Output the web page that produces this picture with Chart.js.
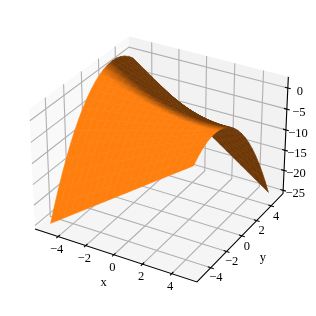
<!DOCTYPE html>
<html>
<head>
<meta charset="utf-8">
<script src="https://cdn.jsdelivr.net/npm/chart.js@4"></script>
<style>
  html, body { margin: 0; padding: 0; background: #fff; }
  canvas { display: block; }
</style>
</head>
<body>
<canvas id="surface-chart" width="316" height="316"></canvas>
<script>
const gridX = [-5,-4.5,-4,-3.5,-3,-2.5,-2,-1.5,-1,-0.5,0,0.5,1,1.5,2,2.5,3,3.5,4,4.5,5];
const gridY = [-5,-4.5,-4,-3.5,-3,-2.5,-2,-1.5,-1,-0.5,0,0.5,1,1.5,2,2.5,3,3.5,4,4.5,5];
// one row per gridY value
const surfaceZ = [
  [-25,-23.8,-22.6,-21.4,-20.2,-19,-17.8,-16.6,-15.4,-14.2,-13,-11.8,-10.6,-9.4,-8.2,-7,-5.8,-4.6,-3.4,-2.2,-1],
  [-21.52,-20.44,-19.36,-18.28,-17.2,-16.12,-15.04,-13.96,-12.88,-11.8,-10.72,-9.64,-8.56,-7.48,-6.4,-5.32,-4.24,-3.16,-2.08,-1,0.08],
  [-18.28,-17.32,-16.36,-15.4,-14.44,-13.48,-12.52,-11.56,-10.6,-9.64,-8.68,-7.72,-6.76,-5.8,-4.84,-3.88,-2.92,-1.96,-1,-0.04,0.92],
  [-15.28,-14.44,-13.6,-12.76,-11.92,-11.08,-10.24,-9.4,-8.56,-7.72,-6.88,-6.04,-5.2,-4.36,-3.52,-2.68,-1.84,-1,-0.16,0.68,1.52],
  [-12.52,-11.8,-11.08,-10.36,-9.64,-8.92,-8.2,-7.48,-6.76,-6.04,-5.32,-4.6,-3.88,-3.16,-2.44,-1.72,-1,-0.28,0.44,1.16,1.88],
  [-10,-9.4,-8.8,-8.2,-7.6,-7,-6.4,-5.8,-5.2,-4.6,-4,-3.4,-2.8,-2.2,-1.6,-1,-0.4,0.2,0.8,1.4,2],
  [-7.72,-7.24,-6.76,-6.28,-5.8,-5.32,-4.84,-4.36,-3.88,-3.4,-2.92,-2.44,-1.96,-1.48,-1,-0.52,-0.04,0.44,0.92,1.4,1.88],
  [-5.68,-5.32,-4.96,-4.6,-4.24,-3.88,-3.52,-3.16,-2.8,-2.44,-2.08,-1.72,-1.36,-1,-0.64,-0.28,0.08,0.44,0.8,1.16,1.52],
  [-3.88,-3.64,-3.4,-3.16,-2.92,-2.68,-2.44,-2.2,-1.96,-1.72,-1.48,-1.24,-1,-0.76,-0.52,-0.28,-0.04,0.2,0.44,0.68,0.92],
  [-2.32,-2.2,-2.08,-1.96,-1.84,-1.72,-1.6,-1.48,-1.36,-1.24,-1.12,-1,-0.88,-0.76,-0.64,-0.52,-0.4,-0.28,-0.16,-0.04,0.08],
  [-1,-1,-1,-1,-1,-1,-1,-1,-1,-1,-1,-1,-1,-1,-1,-1,-1,-1,-1,-1,-1],
  [0.08,-0.04,-0.16,-0.28,-0.4,-0.52,-0.64,-0.76,-0.88,-1,-1.12,-1.24,-1.36,-1.48,-1.6,-1.72,-1.84,-1.96,-2.08,-2.2,-2.32],
  [0.92,0.68,0.44,0.2,-0.04,-0.28,-0.52,-0.76,-1,-1.24,-1.48,-1.72,-1.96,-2.2,-2.44,-2.68,-2.92,-3.16,-3.4,-3.64,-3.88],
  [1.52,1.16,0.8,0.44,0.08,-0.28,-0.64,-1,-1.36,-1.72,-2.08,-2.44,-2.8,-3.16,-3.52,-3.88,-4.24,-4.6,-4.96,-5.32,-5.68],
  [1.88,1.4,0.92,0.44,-0.04,-0.52,-1,-1.48,-1.96,-2.44,-2.92,-3.4,-3.88,-4.36,-4.84,-5.32,-5.8,-6.28,-6.76,-7.24,-7.72],
  [2,1.4,0.8,0.2,-0.4,-1,-1.6,-2.2,-2.8,-3.4,-4,-4.6,-5.2,-5.8,-6.4,-7,-7.6,-8.2,-8.8,-9.4,-10],
  [1.88,1.16,0.44,-0.28,-1,-1.72,-2.44,-3.16,-3.88,-4.6,-5.32,-6.04,-6.76,-7.48,-8.2,-8.92,-9.64,-10.36,-11.08,-11.8,-12.52],
  [1.52,0.68,-0.16,-1,-1.84,-2.68,-3.52,-4.36,-5.2,-6.04,-6.88,-7.72,-8.56,-9.4,-10.24,-11.08,-11.92,-12.76,-13.6,-14.44,-15.28],
  [0.92,-0.04,-1,-1.96,-2.92,-3.88,-4.84,-5.8,-6.76,-7.72,-8.68,-9.64,-10.6,-11.56,-12.52,-13.48,-14.44,-15.4,-16.36,-17.32,-18.28],
  [0.08,-1,-2.08,-3.16,-4.24,-5.32,-6.4,-7.48,-8.56,-9.64,-10.72,-11.8,-12.88,-13.96,-15.04,-16.12,-17.2,-18.28,-19.36,-20.44,-21.52],
  [-1,-2.2,-3.4,-4.6,-5.8,-7,-8.2,-9.4,-10.6,-11.8,-13,-14.2,-15.4,-16.6,-17.8,-19,-20.2,-21.4,-22.6,-23.8,-25]
];
const xTicks = [-4,-2,0,2,4];
const yTicks = [-4,-2,0,2,4];
const zTicks = [0,-5,-10,-15,-20,-25];
const xLabels = ['−4','−2','0','2','4'];
const yLabels = ['−4','−2','0','2','4'];
const zLabels = ['0','−5','−10','−15','−20','−25'];

// axis limits
const L = 5.7, zMin = -25.85, zMax = 3.15, zTop = 2.63;
// visible window of the projected plane
const viewX = [-0.10346, 0.09923], viewY = [-0.10513, 0.09756];

// same camera as a default mplot3d view: elev 30, azim -60, dist 10
const boxA = 0.595, boxB = 0.446;
const U = [0.866, 0.5, 0], V = [-0.25, 0.433, 0.866], W = [0.433, -0.75, 0.5];
function project(x, y, z) {
  const c = [x / L * boxA, y / L * boxA, ((z - zMin) / (zMax - zMin) * 2 - 1) * boxB];
  const dot = a => a[0] * c[0] + a[1] * c[1] + a[2] * c[2];
  const d = 10 - dot(W);
  return { x: dot(U) / d, y: dot(V) / d, d };
}
const poly = pts => pts.map(p => project(p[0], p[1], p[2]));

function lineSet(pts, color, width) {
  return { data: poly(pts), showLine: true, borderColor: color, borderWidth: width, pointRadius: 0, fill: false, clip: false };
}
function fillSet(data, color, edge) {
  return { data, showLine: true, borderColor: color, backgroundColor: color, borderWidth: edge, pointRadius: 0, fill: 'shape', clip: false };
}

const canvas = document.getElementById('surface-chart');
const gctx = canvas.getContext('2d');
const toPx = p => [(p.x - viewX[0]) / (viewX[1] - viewX[0]) * 316, (viewY[1] - p.y) / (viewY[1] - viewY[0]) * 316];

const layers = [];
// panes
layers.push(fillSet(poly([[-L,-L,zMin],[-L,L,zMin],[-L,L,zTop],[-L,-L,zTop],[-L,-L,zMin]]), '#f9f9f9', 0));
layers.push(fillSet(poly([[-L,L,zMin],[L,L,zMin],[L,L,zTop],[-L,L,zTop],[-L,L,zMin]]), '#f2f2f2', 0));
layers.push(fillSet(poly([[-L,-L,zMin],[L,-L,zMin],[L,L,zMin],[-L,L,zMin],[-L,-L,zMin]]), '#f5f5f5', 0));
// grid
const gridColor = '#b0b0b0';
xTicks.forEach(t => layers.push(lineSet([[t,-L,zMin],[t,L,zMin],[t,L,zTop]], gridColor, 1.1)));
yTicks.forEach(t => layers.push(lineSet([[L,t,zMin],[-L,t,zMin],[-L,t,zTop]], gridColor, 1.1)));
zTicks.forEach(t => layers.push(lineSet([[-L,-L,t],[-L,L,t],[L,L,t]], gridColor, 1.1)));

// surface shading, light at az 225, alt 19.47, taken at each grid node
const light = [-0.667, -0.667, 0.333];
function nodeShade(i, j) {
  const iA = Math.max(0, i - 1), iB = Math.min(gridX.length - 1, i + 1);
  const jA = Math.max(0, j - 1), jB = Math.min(gridY.length - 1, j + 1);
  const zx = (surfaceZ[j][iB] - surfaceZ[j][iA]) / (gridX[iB] - gridX[iA]);
  const zy = (surfaceZ[jB][i] - surfaceZ[jA][i]) / (gridY[jB] - gridY[jA]);
  return (-zx * light[0] - zy * light[1] + light[2]) / Math.hypot(zx, zy, 1);
}
function shadeColor(shade) {
  const k = Math.max(0.43, Math.min(1, 0.43 + 0.57 * (shade + 0.3) / 0.8));
  return `rgb(${Math.round(255 * k)},${Math.round(127 * k)},${Math.round(14 * k)})`;
}
// linear gradient that best fits the shade at the four corners of a facet
function facetGradient(corners, shades) {
  const cx = corners.reduce((s, p) => s + p[0], 0) / 4, cy = corners.reduce((s, p) => s + p[1], 0) / 4;
  const sm = shades.reduce((s, v) => s + v, 0) / 4;
  let xx = 0, yy = 0, xy = 0, xs = 0, ys = 0;
  corners.forEach((p, n) => {
    const dx = p[0] - cx, dy = p[1] - cy, ds = shades[n] - sm;
    xx += dx * dx; yy += dy * dy; xy += dx * dy; xs += dx * ds; ys += dy * ds;
  });
  const det = xx * yy - xy * xy;
  if (Math.abs(det) < 1e-6) return shadeColor(sm);
  const a = (xs * yy - ys * xy) / det, b = (ys * xx - xs * xy) / det;
  const n2 = a * a + b * b;
  if (n2 < 1e-10) return shadeColor(sm);
  // span of 2 shade units, centred on the facet
  const g = gctx.createLinearGradient(cx - a / n2, cy - b / n2, cx + a / n2, cy + b / n2);
  for (let n = 0; n <= 32; n++) g.addColorStop(n / 32, shadeColor(sm - 1 + n / 16));
  return g;
}
const facets = [];
for (let j = 0; j < gridY.length - 1; j++) {
  for (let i = 0; i < gridX.length - 1; i++) {
    const x0 = gridX[i], x1 = gridX[i + 1], y0 = gridY[j], y1 = gridY[j + 1];
    const data = poly([[x0,y0,surfaceZ[j][i]],[x1,y0,surfaceZ[j][i + 1]],[x1,y1,surfaceZ[j + 1][i + 1]],[x0,y1,surfaceZ[j + 1][i]],[x0,y0,surfaceZ[j][i]]]);
    const depth = (data[0].d + data[1].d + data[2].d + data[3].d) / 4;
    const corners = [toPx(data[0]), toPx(data[1]), toPx(data[2]), toPx(data[3])];
    const shades = [nodeShade(i, j), nodeShade(i + 1, j), nodeShade(i + 1, j + 1), nodeShade(i, j + 1)];
    facets.push({ depth, set: fillSet(data, facetGradient(corners, shades), 0.6) });
  }
}
facets.sort((p, q) => q.depth - p.depth);
facets.forEach(f => layers.push(f.set));

// axis lines and ticks
const axisColor = '#000';
layers.push(lineSet([[-L,-L,zMin],[L,-L,zMin],[L,L,zMin],[L,L,zTop]], axisColor, 1.1));
xTicks.forEach(t => layers.push(lineSet([[t,-L+0.2,zMin],[t,-L-0.2,zMin]], axisColor, 1.1)));
yTicks.forEach(t => layers.push(lineSet([[L-0.2,t,zMin],[L+0.2,t,zMin]], axisColor, 1.1)));
zTicks.forEach(t => layers.push(lineSet([[L-0.2,L,t],[L+0.2,L,t]], axisColor, 1.1)));

// chart.js paints the highest order first
layers.forEach((set, i) => { set.order = layers.length - i; });

const textPlugin = {
  id: 'axisText',
  afterDatasetsDraw(chart) {
    const { ctx, scales } = chart;
    const put = (str, x, y, z, dx, dy) => {
      const p = project(x, y, z);
      ctx.fillText(str, scales.x.getPixelForValue(p.x) + dx, scales.y.getPixelForValue(p.y) + dy);
    };
    ctx.save();
    ctx.fillStyle = '#000';
    ctx.font = '12.5px "Liberation Serif"';
    ctx.textAlign = 'center';
    ctx.textBaseline = 'middle';
    xTicks.forEach((t, i) => put(xLabels[i], t, -L, zMin, -1.5, 13));
    yTicks.forEach((t, i) => put(yLabels[i], L, t, zMin, 5, 10.5));
    zTicks.forEach((t, i) => put(zLabels[i], L, L, t, 12, 3.5));
    put('x', 0, -L, zMin, -10.3, 28);
    put('y', L, 0, zMin, 21, 22);
    ctx.restore();
  }
};

new Chart(canvas, {
  type: 'scatter',
  data: { datasets: layers },
  options: {
    responsive: false,
    animation: false,
    events: [],
    layout: { padding: 0 },
    plugins: { legend: { display: false }, tooltip: { enabled: false } },
    scales: {
      x: { type: 'linear', display: false, min: viewX[0], max: viewX[1] },
      y: { type: 'linear', display: false, min: viewY[0], max: viewY[1] }
    }
  },
  plugins: [textPlugin]
});
</script>
</body>
</html>
